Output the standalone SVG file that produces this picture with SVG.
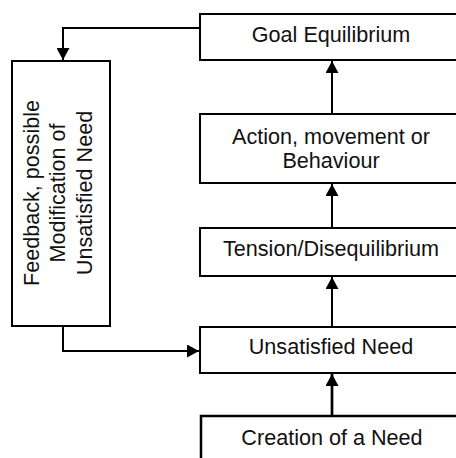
<svg xmlns="http://www.w3.org/2000/svg" width="456" height="458" viewBox="0 0 456 458">
<style>
.box{fill:#fff;stroke:#000;stroke-width:2}
.lbl{font-family:"Liberation Sans",Arial,sans-serif;font-size:21.6px;fill:#111;text-anchor:middle}
.con{fill:none;stroke:#000;stroke-width:2}
</style>
<defs>
<marker id="ah" markerUnits="userSpaceOnUse" markerWidth="12" markerHeight="13" refX="12" refY="6.5" orient="auto">
<path d="M0,0 L12,6.5 L0,13 z" fill="#000"/>
</marker>
</defs>
<rect width="456" height="458" fill="#fff"/>
<g id="goal"><rect class="box" x="200" y="14" width="262" height="46"/><text class="lbl" x="331" y="42">Goal Equilibrium</text></g>
<g id="action"><rect class="box" x="200" y="114" width="262" height="69"/><text class="lbl" x="331" y="144">Action, movement or</text><text class="lbl" x="331" y="168">Behaviour</text></g>
<g id="tension"><rect class="box" x="200" y="228" width="262" height="48"/><text class="lbl" x="331" y="256">Tension/Disequilibrium</text></g>
<g id="unsatisfied"><rect class="box" x="200" y="327" width="262" height="46"/><text class="lbl" x="331" y="354">Unsatisfied Need</text></g>
<g id="creation"><rect class="box" x="201" y="416" width="262" height="60" style="stroke-width:2.5"/><text class="lbl" x="332" y="445">Creation of a Need</text></g>
<g id="feedback"><rect class="box" x="12" y="61" width="98" height="265"/>
<text class="lbl" transform="translate(39,193) rotate(-90)">Feedback, possible</text>
<text class="lbl" transform="translate(65,193) rotate(-90)">Modification of</text>
<text class="lbl" transform="translate(92,193) rotate(-90)">Unsatisfied Need</text>
</g>
<g id="connectors">
<polyline class="con" points="200,28 63,28 63,60" marker-end="url(#ah)"/>
<polyline class="con" points="63,326 63,351 199,351" marker-end="url(#ah)"/>
<line class="con" x1="332" y1="416" x2="332" y2="374" style="stroke-width:2.7" marker-end="url(#ah)"/>
<line class="con" x1="332" y1="327" x2="332" y2="277" marker-end="url(#ah)"/>
<line class="con" x1="332" y1="228" x2="332" y2="184" marker-end="url(#ah)"/>
<line class="con" x1="332" y1="114" x2="332" y2="61" marker-end="url(#ah)"/>
</g>
</svg>
